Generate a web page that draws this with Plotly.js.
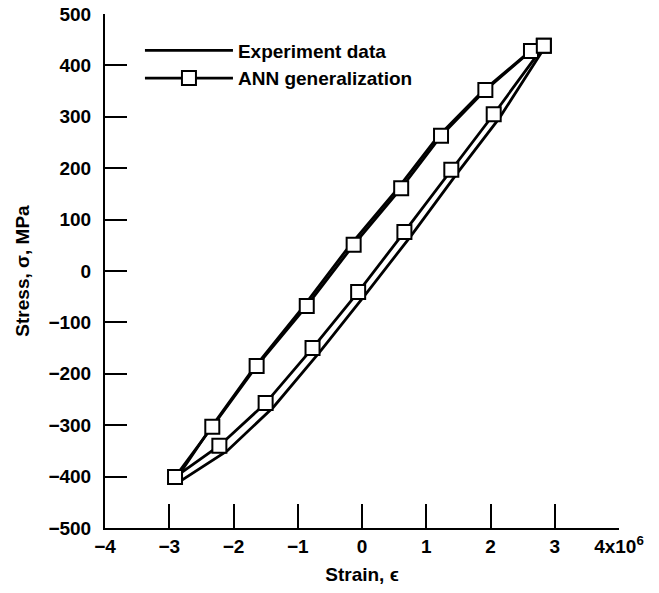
<!DOCTYPE html>
<html>
<head>
<meta charset="utf-8">
<script src="https://cdn.plot.ly/plotly-3.0.1.min.js"></script>
<style>html,body{margin:0;padding:0;background:#fff;}#chart{width:659px;height:593px;}</style>
</head>
<body>
<div id="chart"></div>
<script>
// Experiment data: unloading (upper) branch then loading (lower) branch
const expStrain = [2.86, 2.6, 1.88, 1.17, 0.54, -0.2, -0.93, -1.69, -2.37, -2.9,
                   -2.84, -2.1, -1.38, -0.66, 0.04, 0.76, 1.48, 2.14, 2.87];
const expStress = [440, 426, 350, 260, 158, 48, -72, -190, -308, -406,
                   -410, -350, -265, -158, -48, 68, 190, 298, 440];

// ANN generalization: upper branch then lower branch
const annStrain = [2.83, 2.63, 1.92, 1.23, 0.61, -0.13, -0.86, -1.64, -2.33, -2.91,
                   -2.22, -1.5, -0.77, -0.06, 0.66, 1.39, 2.05, 2.83];
const annStress = [438, 428, 352, 263, 161, 51, -68, -185, -303, -401,
                   -340, -257, -150, -41, 76, 197, 305, 438];

const xTickVals = [-4, -3, -2, -1, 0, 1, 2, 3, 4];
const xTickText = ['\u22124', '\u22123', '\u22122', '\u22121', '0', '1', '2', '3', '4x10<sup>6</sup>'];
const yTickVals = [-500, -400, -300, -200, -100, 0, 100, 200, 300, 400, 500];
const yTickText = ['\u2212500', '\u2212400', '\u2212300', '\u2212200', '\u2212100', '0', '100', '200', '300', '400', '500'];

const font = {family: 'Liberation Sans, Arial, sans-serif', color: '#000', weight: 'bold'};

const traces = [
  {
    x: expStrain, y: expStress, mode: 'lines', name: 'Experiment data',
    line: {color: '#000', width: 2.8}
  },
  {
    x: annStrain, y: annStress, mode: 'lines+markers', name: 'ANN generalization',
    line: {color: '#000', width: 2.8},
    marker: {symbol: 'square', size: 14, color: '#fff', line: {color: '#000', width: 2}}
  }
];

const layout = {
  width: 659, height: 593,
  margin: {l: 105, r: 40, t: 14, b: 65},
  paper_bgcolor: '#fff', plot_bgcolor: '#fff',
  showlegend: true,
  legend: {
    x: 0.068, y: 0.966, xanchor: 'left', yanchor: 'top',
    font: Object.assign({}, font, {size: 19}),
    bgcolor: 'rgba(0,0,0,0)', tracegroupgap: 0, itemwidth: 88
  },
  xaxis: {
    range: [-4, 4], tickvals: xTickVals, ticktext: xTickText,
    ticks: 'inside', ticklen: 24, tickwidth: 2, tickcolor: '#000',
    showline: true, linewidth: 2, linecolor: '#000', showgrid: false, zeroline: false,
    tickfont: Object.assign({}, font, {size: 19}),
    title: {text: 'Strain, \u03f5', font: Object.assign({}, font, {size: 19}), standoff: 12},
    automargin: false
  },
  yaxis: {
    range: [-500, 500], tickvals: yTickVals, ticktext: yTickText,
    ticks: 'inside', ticklen: 22, tickwidth: 2, tickcolor: '#000',
    showline: true, linewidth: 2, linecolor: '#000', showgrid: false, zeroline: false,
    tickfont: Object.assign({}, font, {size: 19}), ticklabelstandoff: 8,
    title: {text: 'Stress, \u03c3, MPa', font: Object.assign({}, font, {size: 19}), standoff: 14},
    automargin: false
  }
};

Plotly.newPlot('chart', traces, layout, {staticPlot: true, displayModeBar: false});
</script>
</body>
</html>
